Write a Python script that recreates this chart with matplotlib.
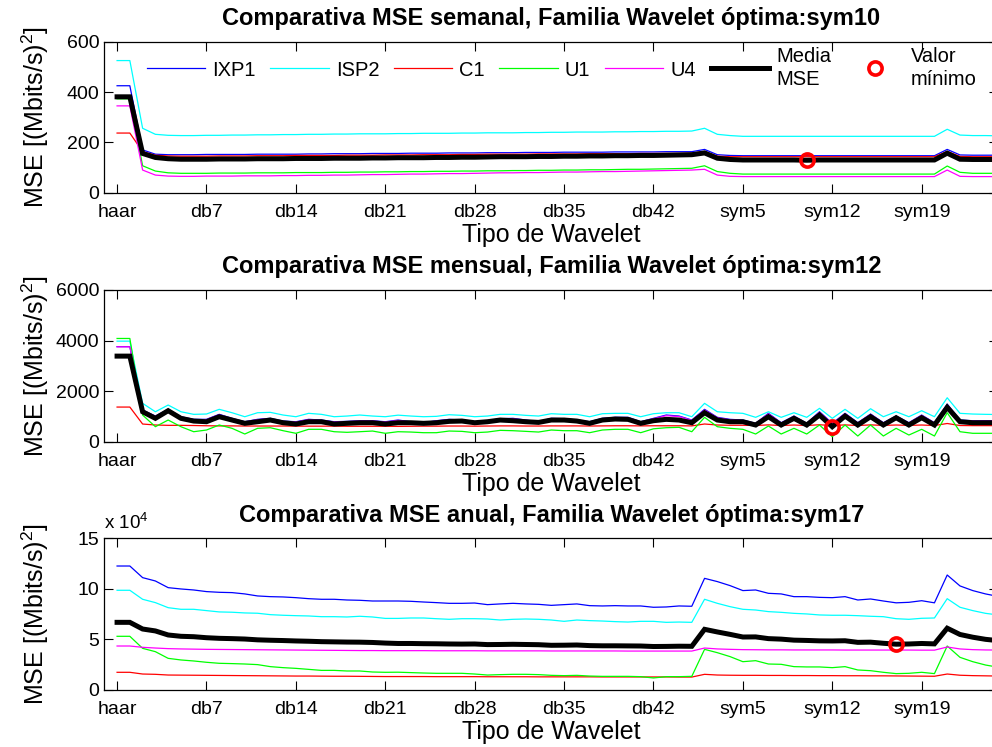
import numpy as np
import matplotlib
matplotlib.use("Agg")
import matplotlib.pyplot as plt
from matplotlib.lines import Line2D
from matplotlib.transforms import offset_copy

plt.rcParams['font.family'] = ['Liberation Sans', 'DejaVu Sans']
plt.rcParams['mathtext.fontset'] = 'custom'
plt.rcParams['mathtext.rm'] = 'Liberation Sans'
plt.rcParams['mathtext.it'] = 'Liberation Sans:italic'
plt.rcParams['mathtext.bf'] = 'Liberation Sans:bold'

# ---------------- categories ----------------
wavelets = ['haar'] + ['db%d' % i for i in range(1, 46)] + ['sym%d' % i for i in range(2, 26)]
tick_labels = ['haar', 'db7', 'db14', 'db21', 'db28', 'db35', 'db42', 'sym5', 'sym12', 'sym19']
series_names = ['IXP1', 'ISP2', 'C1', 'U1', 'U4']
series_colors = ['#0000ff', '#00ffff', '#ff0000', '#00ff00', '#ff00ff']

# ---------------- weekly MSE ----------------
week_ixp1 = [425, 425, 170, 153, 151, 151, 151, 152, 152, 152,
             152, 153, 153, 153, 153, 154, 154, 155, 155, 155,
             156, 156, 156, 157, 157, 157, 158, 158, 158, 159,
             159, 159, 160, 160, 160, 161, 161, 161, 161, 162,
             162, 162, 162, 163, 163, 163, 172, 151, 148, 147,
             147, 147, 147, 147, 147, 147, 147, 147, 147, 147,
             147, 147, 147, 147, 147, 172, 150, 149, 149, 149]
week_isp2 = [525, 525, 256, 232, 228, 227, 227, 228, 228, 229,
             229, 230, 230, 231, 231, 232, 232, 233, 233, 234,
             234, 234, 235, 235, 236, 236, 236, 237, 237, 238,
             238, 238, 239, 239, 240, 240, 241, 241, 241, 242,
             242, 243, 243, 244, 244, 245, 256, 232, 227, 224,
             224, 224, 224, 224, 224, 224, 224, 224, 224, 224,
             224, 224, 224, 224, 224, 252, 229, 227, 227, 226]
week_c1 = [237, 237, 163, 149, 146, 145, 145, 145, 146, 146,
           146, 147, 147, 147, 148, 148, 148, 148, 149, 149,
           149, 150, 150, 150, 151, 151, 151, 152, 152, 153,
           153, 153, 153, 154, 154, 154, 154, 155, 155, 155,
           155, 156, 156, 156, 156, 157, 164, 145, 143, 143,
           143, 143, 143, 143, 143, 143, 143, 143, 143, 143,
           143, 143, 143, 143, 143, 164, 144, 143, 143, 143]
week_u1 = [373, 373, 107, 86, 79, 77, 77, 77, 78, 78,
           78, 79, 79, 79, 80, 80, 80, 81, 81, 82,
           82, 83, 83, 84, 84, 85, 85, 86, 86, 87,
           87, 88, 88, 89, 89, 90, 90, 91, 91, 92,
           93, 93, 94, 95, 96, 97, 107, 84, 77, 74,
           74, 74, 74, 74, 74, 74, 74, 74, 74, 74,
           74, 74, 74, 74, 74, 106, 81, 77, 77, 77]
week_u4 = [345, 345, 90, 70, 66, 65, 65, 66, 66, 66,
           67, 67, 67, 68, 68, 69, 69, 70, 70, 71,
           72, 72, 73, 74, 74, 75, 76, 76, 77, 78,
           79, 79, 80, 80, 81, 82, 82, 83, 84, 84,
           85, 86, 87, 88, 89, 90, 93, 70, 65, 64,
           64, 64, 64, 64, 64, 64, 64, 64, 64, 64,
           64, 64, 64, 64, 64, 90, 65, 64, 64, 64]
week_mean = [381, 381, 156, 140, 135, 133, 133, 133, 134, 134,
             134, 135, 135, 135, 136, 136, 136, 137, 137, 137,
             138, 138, 139, 139, 139, 140, 140, 141, 141, 142,
             143, 143, 143, 144, 144, 145, 145, 146, 146, 147,
             147, 148, 148, 149, 150, 151, 158, 137, 132, 130,
             130, 130, 130, 130, 129, 130, 130, 130, 130, 130,
             130, 130, 130, 130, 130, 157, 133, 132, 132, 132]
week_opt = 'sym10'

# ---------------- monthly MSE ----------------
month_ixp1 = [3760, 3760, 1252, 1015, 1280, 988, 885, 885, 1082, 924,
              790, 885, 924, 817, 790, 885, 857, 790, 804, 830,
              830, 790, 857, 790, 750, 830, 884, 857, 790, 830,
              910, 924, 857, 790, 924, 910, 857, 790, 924, 964,
              964, 790, 924, 1055, 1015, 857, 1280, 964, 884, 857,
              727, 1122, 750, 1015, 727, 1185, 727, 1122, 750, 1094,
              750, 1015, 750, 1055, 750, 1488, 857, 830, 830, 830]
month_isp2 = [3977, 3977, 1517, 1185, 1450, 1185, 1082, 1095, 1280, 1146,
              988, 1146, 1161, 1055, 988, 1122, 1082, 988, 1015, 1055,
              1015, 988, 1050, 1015, 988, 1003, 1067, 1042, 988, 1015,
              1082, 1082, 1042, 1015, 1107, 1082, 1082, 988, 1107, 1121,
              1121, 988, 1107, 1146, 1146, 988, 1517, 1185, 1146, 1122,
              964, 1185, 964, 1146, 964, 1319, 924, 1280, 924, 1304,
              988, 1185, 988, 1225, 988, 1738, 1122, 1094, 1082, 1075]
month_c1 = [1370, 1370, 699, 660, 647, 647, 640, 630, 625, 625,
            620, 620, 620, 620, 615, 615, 615, 615, 610, 610,
            610, 610, 605, 610, 615, 615, 620, 620, 615, 620,
            625, 625, 620, 620, 625, 625, 625, 620, 625, 630,
            630, 625, 630, 630, 630, 625, 700, 660, 650, 650,
            640, 665, 640, 660, 640, 670, 640, 665, 640, 665,
            645, 660, 645, 660, 640, 720, 640, 635, 635, 635]
month_u1 = [4083, 4083, 1054, 593, 857, 593, 395, 462, 660, 529,
            304, 529, 553, 435, 332, 490, 490, 395, 371, 395,
            422, 332, 395, 382, 356, 356, 422, 409, 356, 382,
            449, 435, 409, 382, 462, 435, 435, 356, 462, 490,
            490, 356, 510, 553, 568, 395, 964, 593, 529, 490,
            304, 620, 304, 529, 304, 660, 198, 660, 225, 660,
            225, 529, 264, 490, 225, 1146, 395, 332, 332, 332]
month_u4 = [3753, 3753, 1230, 1000, 1260, 970, 870, 870, 1060, 905,
            775, 870, 905, 800, 775, 870, 840, 775, 790, 815,
            815, 775, 840, 775, 735, 815, 865, 840, 775, 815,
            890, 905, 840, 775, 905, 890, 840, 775, 905, 945,
            945, 775, 905, 1030, 995, 840, 1250, 945, 865, 840,
            715, 1100, 735, 995, 715, 1160, 715, 1100, 735, 1075,
            735, 995, 735, 1035, 735, 1450, 840, 815, 815, 815]
month_mean = [3385, 3385, 1185, 924, 1226, 924, 817, 790, 988, 857,
              727, 790, 857, 750, 699, 790, 790, 699, 727, 750,
              750, 699, 750, 750, 727, 750, 804, 817, 750, 790,
              857, 830, 790, 763, 857, 857, 817, 727, 857, 897,
              884, 727, 830, 884, 857, 750, 1146, 857, 790, 790,
              660, 988, 660, 924, 660, 1055, 593, 1015, 660, 988,
              660, 948, 660, 948, 660, 1359, 790, 750, 750, 750]
month_opt = 'sym12'

# ---------------- annual MSE (x 10^4) ----------------
year_ixp1 = [12.26, 12.26, 11.11, 10.78, 10.12, 9.99, 9.89, 9.73, 9.66, 9.63,
             9.50, 9.30, 9.23, 9.20, 9.13, 9.03, 8.97, 8.97, 8.90, 8.87,
             8.80, 8.80, 8.80, 8.77, 8.70, 8.64, 8.57, 8.57, 8.60, 8.44,
             8.51, 8.57, 8.51, 8.47, 8.37, 8.44, 8.51, 8.34, 8.31, 8.34,
             8.31, 8.31, 8.18, 8.21, 8.31, 8.28, 11.04, 10.72, 10.32, 9.83,
             9.89, 9.56, 9.50, 9.23, 9.23, 9.16, 9.13, 9.23, 8.90, 9.00,
             8.80, 8.62, 8.67, 8.83, 8.62, 11.37, 10.29, 9.83, 9.50, 9.25]
year_isp2 = [9.86, 9.86, 8.97, 8.64, 8.14, 7.98, 7.98, 7.85, 7.72, 7.69,
             7.62, 7.59, 7.45, 7.39, 7.35, 7.32, 7.25, 7.25, 7.22, 7.29,
             7.22, 7.08, 7.08, 7.12, 7.12, 7.05, 6.99, 7.05, 7.05, 7.02,
             6.92, 6.99, 7.02, 6.99, 6.92, 6.79, 6.92, 6.86, 6.82, 6.76,
             6.72, 6.79, 6.79, 6.69, 6.72, 6.69, 8.97, 8.57, 8.24, 7.98,
             7.91, 7.75, 7.68, 7.58, 7.52, 7.42, 7.39, 7.39, 7.35, 7.29,
             7.25, 7.05, 6.99, 7.09, 7.12, 9.03, 8.18, 7.85, 7.58, 7.42]
year_c1 = [1.75, 1.75, 1.58, 1.55, 1.48, 1.47, 1.46, 1.45, 1.44, 1.43,
           1.42, 1.41, 1.40, 1.39, 1.38, 1.38, 1.37, 1.36, 1.36, 1.35,
           1.34, 1.33, 1.33, 1.33, 1.33, 1.32, 1.32, 1.32, 1.32, 1.31,
           1.31, 1.31, 1.31, 1.30, 1.30, 1.30, 1.30, 1.30, 1.29, 1.29,
           1.29, 1.29, 1.29, 1.29, 1.28, 1.28, 1.55, 1.48, 1.46, 1.45,
           1.45, 1.44, 1.44, 1.43, 1.43, 1.42, 1.42, 1.41, 1.41, 1.40,
           1.40, 1.39, 1.38, 1.37, 1.36, 1.58, 1.46, 1.42, 1.40, 1.38]
year_u1 = [5.31, 5.31, 4.12, 3.79, 3.13, 2.97, 2.87, 2.74, 2.64, 2.61,
           2.57, 2.51, 2.31, 2.21, 2.14, 2.04, 1.94, 1.94, 1.88, 1.88,
           1.78, 1.75, 1.76, 1.72, 1.68, 1.65, 1.65, 1.65, 1.58, 1.48,
           1.52, 1.55, 1.55, 1.52, 1.45, 1.42, 1.45, 1.38, 1.35, 1.35,
           1.35, 1.32, 1.19, 1.32, 1.32, 1.35, 4.02, 3.69, 3.30, 2.80,
           2.90, 2.57, 2.54, 2.31, 2.28, 2.28, 2.21, 2.31, 1.98, 1.91,
           1.75, 1.62, 1.65, 1.75, 1.62, 4.35, 3.23, 2.80, 2.47, 2.25]
year_u4 = [4.35, 4.35, 4.22, 4.15, 4.09, 4.06, 4.04, 4.02, 4.01, 4.00,
           3.99, 3.98, 3.97, 3.96, 3.95, 3.94, 3.93, 3.92, 3.91, 3.90,
           3.90, 3.89, 3.89, 3.89, 3.89, 3.88, 3.88, 3.88, 3.88, 3.87,
           3.87, 3.87, 3.87, 3.87, 3.86, 3.86, 3.86, 3.86, 3.86, 3.86,
           3.85, 3.85, 3.85, 3.85, 3.85, 3.85, 4.15, 4.06, 4.02, 3.99,
           3.98, 3.97, 3.97, 3.96, 3.96, 3.96, 3.96, 3.95, 3.95, 3.95,
           3.95, 3.95, 3.95, 3.94, 3.94, 4.25, 4.06, 3.99, 3.96, 3.95]
year_mean = [6.69, 6.69, 6.03, 5.84, 5.44, 5.31, 5.27, 5.17, 5.11, 5.08,
             5.04, 4.96, 4.92, 4.89, 4.85, 4.82, 4.78, 4.76, 4.74, 4.73,
             4.70, 4.64, 4.60, 4.60, 4.58, 4.57, 4.55, 4.54, 4.55, 4.49,
             4.50, 4.52, 4.50, 4.48, 4.42, 4.43, 4.45, 4.39, 4.37, 4.37,
             4.36, 4.35, 4.30, 4.31, 4.33, 4.32, 6.00, 5.74, 5.50, 5.24,
             5.25, 5.08, 5.03, 4.93, 4.90, 4.86, 4.85, 4.87, 4.71, 4.73,
             4.62, 4.53, 4.55, 4.60, 4.56, 6.11, 5.49, 5.22, 5.01, 4.88]
year_opt = 'sym17'

panels = [
    dict(period='semanal', series=[week_ixp1, week_isp2, week_c1, week_u1, week_u4],
         mean=week_mean, opt=week_opt, ylim=(0, 600), yticks=[0, 200, 400, 600],
         bottom_px=192.7, height_px=151.0, scale=None),
    dict(period='mensual', series=[month_ixp1, month_isp2, month_c1, month_u1, month_u4],
         mean=month_mean, opt=month_opt, ylim=(0, 6000), yticks=[0, 2000, 4000, 6000],
         bottom_px=441.7, height_px=151.7, scale=None),
    dict(period='anual', series=[year_ixp1, year_isp2, year_c1, year_u1, year_u4],
         mean=year_mean, opt=year_opt, ylim=(0, 15), yticks=[0, 5, 10, 15],
         bottom_px=690.0, height_px=151.7, scale='x 10$^{4}$'),
]

W, H = 992, 747
fig = plt.figure(figsize=(W / 100, H / 100), dpi=100)

left_px = 104.3
width_px = 894.0
x = np.arange(1, len(wavelets) + 1)
tick_pos = [wavelets.index(t) + 1 for t in tick_labels]

axes = []
for p in panels:
    for s in p['series'] + [p['mean']]:
        assert len(s) == len(wavelets)
    ax = fig.add_axes([left_px / W, 1 - p['bottom_px'] / H, width_px / W, p['height_px'] / H])
    axes.append(ax)
    for vals, col in zip(p['series'], series_colors):
        ax.plot(x, vals, color=col, lw=0.9)
    ax.plot(x, p['mean'], color='black', lw=3.6, solid_joinstyle='miter')
    i = wavelets.index(p['opt'])
    ax.plot(x[i], p['mean'][i], 'o', mfc='none', mec='#ff0000', ms=9.5, mew=2.6, zorder=5)
    ax.set_xlim(0, 70)
    ax.set_ylim(*p['ylim'])
    ax.set_yticks(p['yticks'])
    ax.set_xticks(tick_pos)
    ax.set_xticklabels(tick_labels)
    ax.tick_params(direction='in', top=True, right=True, length=6.5, width=0.8,
                   labelsize=14, colors='black')
    ax.tick_params(axis='x', pad=8.0)
    ax.tick_params(axis='y', pad=3.5)
    for sp in ax.spines.values():
        sp.set_linewidth(0.9)
    ax.set_title('Comparativa MSE %s, Familia Wavelet óptima:%s' % (p['period'], p['opt']),
                 fontsize=17, fontweight='bold', pad=12)
    ax.set_xlabel('Tipo de Wavelet', fontsize=18)
    ax.xaxis.set_label_coords(0.5, -30.0 / p['height_px'])
    ax.set_ylabel('MSE [(Mbits/s)$^{2}$]', fontsize=18)
    ax.yaxis.set_label_coords((51 - left_px) / width_px, 0.5)
    if p['scale']:
        ax.text(0, 1, p['scale'], transform=offset_copy(ax.transAxes, fig=fig, x=0, y=9, units='dots'),
                ha='left', va='baseline', fontsize=13.5)

# legend on the top panel
handles = [Line2D([], [], color=c, lw=0.9) for c in series_colors]
handles.append(Line2D([], [], color='black', lw=3.6))
handles.append(Line2D([], [], ls='none', marker='o', mfc='none', mec='#ff0000', ms=9.5, mew=2.6))
labels = series_names + ['Media\nMSE', 'Valor\nmínimo']
leg = axes[0].legend(handles, labels, ncol=7, loc='center left',
                     bbox_to_anchor=(147 / W, 1 - 68 / H), bbox_transform=fig.transFigure,
                     frameon=False, fontsize=14.5, handlelength=2.9, handletextpad=0.35,
                     columnspacing=0.72, borderpad=0, borderaxespad=0)
for t in leg.get_texts():
    t.set_linespacing(1.3)

fig.savefig('out.png', dpi=100)
